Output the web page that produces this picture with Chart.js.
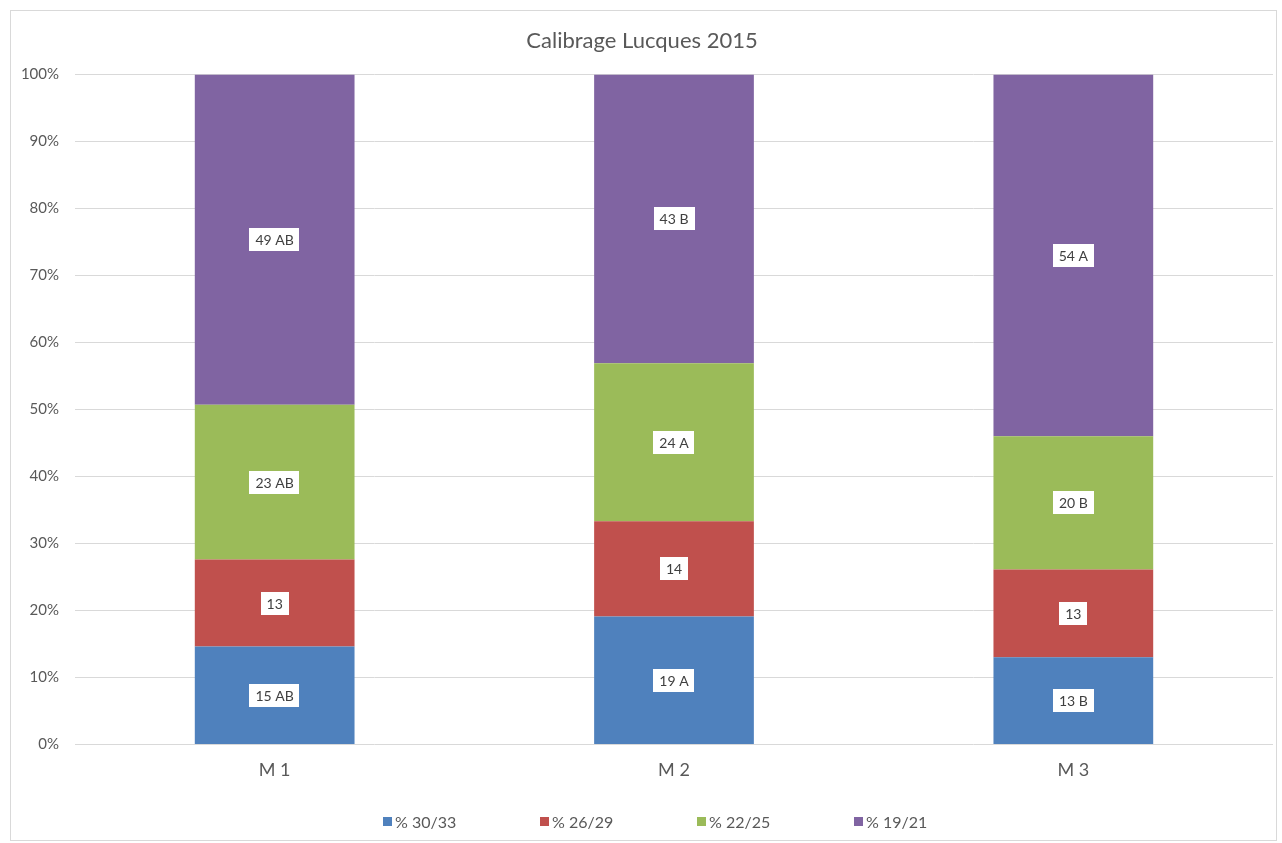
<!DOCTYPE html>
<html>
<head>
<meta charset="utf-8">
<script src="https://cdn.jsdelivr.net/npm/chart.js@4/dist/chart.umd.min.js"></script>
<style>
  body { margin: 0; background: #fff; }
  #box { position: absolute; left: 10px; top: 10px; width: 1265px; height: 829px; border: 1px solid #d9d9d9; }
  #wrap { position: absolute; left: 0; top: 0; width: 1265px; height: 829px; }
  #legend { position: absolute; left: 372px; top: 801px; display: flex;
    font-family: Lato, sans-serif; font-size: 16px; color: #595959; }
  #legend .item { display: flex; align-items: center; width: 157px; }
  #legend .sw { width: 9px; height: 9px; margin-right: 3px; }
</style>
</head>
<body>
<div id="box">
  <div id="wrap"><canvas id="myChart"></canvas></div>
  <div id="legend"></div>
</div>
<script>
const categories = ["M 1", "M 2", "M 3"];
const seriesNames = ["% 30/33", "% 26/29", "% 22/25", "% 19/21"];
const seriesColors = ["#4F81BD", "#C0504D", "#9BBB59", "#8064A2"];

// percent of each caliber class per modality
const pct3033 = [14.6, 19.1, 13.0];
const pct2629 = [13.0, 14.2, 13.1];
const pct2225 = [23.1, 23.6, 19.9];
const pct1921 = [49.3, 43.1, 54.0];

// text written in the white boxes
const lab3033 = ["15 AB", "19 A", "13 B"];
const lab2629 = ["13", "14", "13"];
const lab2225 = ["23 AB", "24 A", "20 B"];
const lab1921 = ["49 AB", "43 B", "54 A"];

const yTicks = [0, 10, 20, 30, 40, 50, 60, 70, 80, 90, 100];

const values = [pct3033, pct2629, pct2225, pct1921];
const boxLabels = [lab3033, lab2629, lab2225, lab1921];

const fontFam = "Lato, sans-serif";

const boxLabelPlugin = {
  id: "boxLabels",
  afterDatasetsDraw(chart) {
    const ctx = chart.ctx;
    ctx.save();
    ctx.font = "14px " + fontFam;
    ctx.textAlign = "center";
    ctx.textBaseline = "middle";
    chart.data.datasets.forEach((ds, i) => {
      const meta = chart.getDatasetMeta(i);
      meta.data.forEach((el, j) => {
        const txt = boxLabels[i][j];
        const cy = (el.y + el.base) / 2;
        const w = ctx.measureText(txt).width + 12;
        const h = 23;
        ctx.fillStyle = "#fff";
        ctx.fillRect(Math.round(el.x - w / 2), Math.round(cy - h / 2), Math.round(w), h);
        ctx.fillStyle = "#404040";
        ctx.fillText(txt, el.x, cy + 1);
      });
    });
    ctx.restore();
  }
};

const data = {
  labels: categories,
  datasets: seriesNames.map((name, i) => ({
    label: name,
    data: values[i],
    backgroundColor: seriesColors[i],
    barPercentage: 0.4,
    categoryPercentage: 1.0,
  })),
};

const config = {
  type: "bar",
  data: data,
  options: {
    responsive: true,
    maintainAspectRatio: false,
    animation: false,
    layout: { padding: { top: 0, right: 3, bottom: 44, left: 0 } },
    plugins: {
      legend: { display: false },
      tooltip: { enabled: false },
      title: {
        display: true,
        text: "Calibrage Lucques 2015",
        color: "#595959",
        font: { family: fontFam, size: 22, weight: "normal" },
        padding: { top: 17, bottom: 20 },
      },
    },
    scales: {
      x: {
        stacked: true,
        grid: { display: false, drawTicks: false },
        border: { display: false },
        ticks: { color: "#595959", font: { family: fontFam, size: 18 }, padding: 15 },
      },
      y: {
        stacked: true,
        min: 0,
        max: 100,
        afterBuildTicks(scale) {
          scale.ticks = yTicks.map(v => ({ value: v }));
        },
        afterFit(scale) { scale.width = 64; },
        grid: { color: "#d9d9d9", drawTicks: false },
        border: { display: false },
        ticks: {
          color: "#595959",
          font: { family: fontFam, size: 15 },
          padding: 16,
          callback: v => v + "%",
        },
      },
    },
  },
  plugins: [boxLabelPlugin],
};

const myChart = new Chart(document.getElementById("myChart"), config);

const legendEl = document.getElementById("legend");
seriesNames.forEach((name, i) => {
  const item = document.createElement("div");
  item.className = "item";
  const sw = document.createElement("span");
  sw.className = "sw";
  sw.style.background = seriesColors[i];
  const t = document.createElement("span");
  t.textContent = name;
  item.appendChild(sw);
  item.appendChild(t);
  legendEl.appendChild(item);
});
</script>
</body>
</html>
